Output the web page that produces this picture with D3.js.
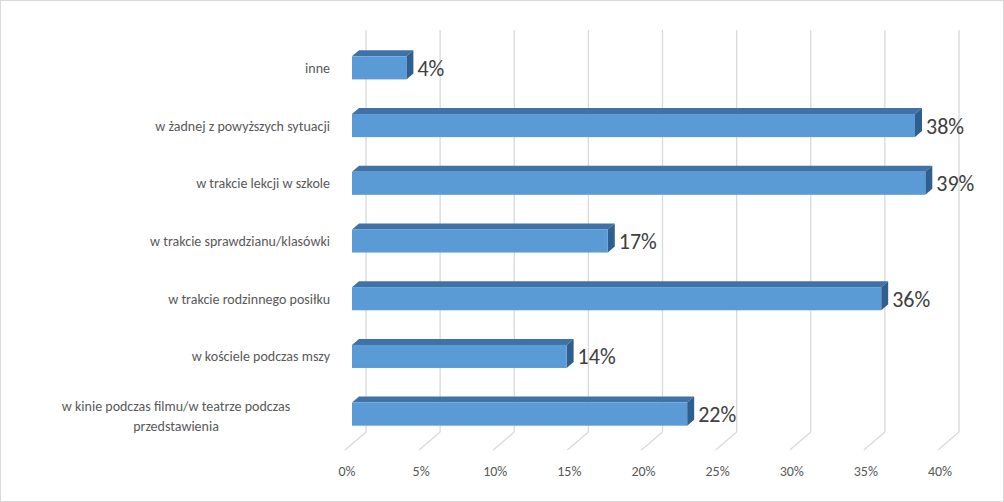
<!DOCTYPE html><html><head><meta charset="utf-8">
<script src="https://d3js.org/d3.v7.min.js"></script>
<style>body{margin:0;background:#fff}</style></head><body>
<script>
const categories=["inne","w żadnej z powyższych sytuacji","w trakcie lekcji w szkole","w trakcie sprawdzianu/klasówki","w trakcie rodzinnego posiłku","w kościele podczas mszy","w kinie podczas filmu/w teatrze podczas przedstawienia"];
const values=[3.7,38.3,39,17.4,36,14.6,22.8];
const valueLabels=["4%","38%","39%","17%","36%","14%","22%"];
const ticks=[0,5,10,15,20,25,30,35,40];
const W=1004,H=502;
const svg=d3.select("body").append("svg").attr("width",W).attr("height",H).style("font-family","Calibri, Carlito, 'Liberation Sans', sans-serif");
svg.append("rect").attr("x",0.5).attr("y",0.5).attr("width",W-1).attr("height",H-1).attr("fill","#fff").attr("stroke","#d9d9d9");
const x=d3.scaleLinear().domain([0,40]).range([345,938]);
const DX=21,DY=18;
const y=d3.scaleBand().domain(categories).range([39,443]).paddingInner(0.6).paddingOuter(0.3);
const g=svg.append("g");
ticks.forEach(t=>{
  const xb=x(t)+DX;
  g.append("line").attr("x1",xb).attr("x2",xb).attr("y1",30).attr("y2",450-DY).attr("stroke","#d9d9d9").attr("stroke-width",1.3);
  g.append("line").attr("x1",x(t)).attr("y1",450).attr("x2",xb).attr("y2",450-DY).attr("stroke","#d9d9d9").attr("stroke-width",1.3);
  g.append("text").attr("x",x(t)+2).attr("y",476).attr("text-anchor","middle").attr("font-size",14).attr("fill","#595959").text(t+"%");
});
const xf=d3.scaleLinear().domain([0,40]).range([352,352+40*14.7]);
const d=7,e=6;
categories.forEach((c,i)=>{
  const y0=y(c),h=y.bandwidth(),x0=xf(0),x1=xf(values[i]);
  g.append("path").attr("d",`M${x0},${y0}L${x0+d},${y0-e}L${x1+d},${y0-e}L${x1},${y0}Z`).attr("fill","#3f72a6");
  g.append("path").attr("d",`M${x1},${y0}L${x1+d},${y0-e}L${x1+d},${y0+h-e}L${x1},${y0+h}Z`).attr("fill","#2f5f8f");
  g.append("rect").attr("x",x0).attr("y",y0).attr("width",x1-x0).attr("height",h).attr("fill","#5b9bd5");
  g.append("text").attr("x",x1+d+4).attr("y",y0+h/2+8).attr("font-size",22).attr("fill","#404040").text(valueLabels[i]);
  const lines=c.startsWith("w kinie")?["w kinie podczas filmu/w teatrze podczas","przedstawienia"]:[c];
  const t=g.append("text").attr("text-anchor","middle").attr("font-size",14).attr("fill","#595959");
  if(lines.length===1){t.attr("x",330).attr("text-anchor","end").attr("y",y0+h/2+5).text(c);}
  else lines.forEach((l,k)=>t.append("tspan").attr("x",176).attr("y",y0+h/2-3+k*20).text(l));
});
</script></body></html>
